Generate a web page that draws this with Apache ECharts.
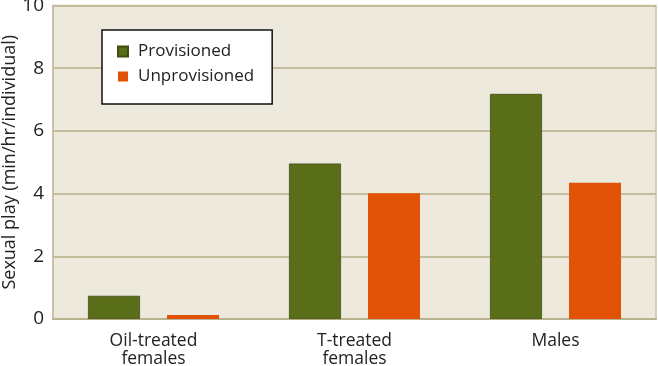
<!DOCTYPE html>
<html><head><meta charset="utf-8">
<script src="https://cdn.jsdelivr.net/npm/echarts@6/dist/echarts.min.js"></script>
<style>html,body{margin:0;padding:0;background:#fff}#c{width:658px;height:366px}</style>
</head><body><div id="c"></div>
<script>
const categories = ['Oil-treated\nfemales', 'T-treated\nfemales', 'Males'];
const provisioned = [0.74, 4.96, 7.18];
const unprovisioned = [0.13, 4.01, 4.35];
const yTicks = [0, 2, 4, 6, 8, 10];

const chart = echarts.init(document.getElementById('c'));
chart.setOption({
  animation: false,
  textStyle: { fontFamily: 'Open Sans' },
  grid: { left: 53, right: 2, top: 5.5, bottom: 47, outerBoundsMode: 'none', containLabel: false,
    show: true, backgroundColor: '#ede9dc', borderColor: '#c9c3a6', borderWidth: 1.5 },
  legend: {
    left: 102, top: 30, orient: 'vertical',
    padding: [13, 18, 19, 15],
    backgroundColor: '#fff', borderColor: '#111', borderWidth: 1.5,
    itemWidth: 10, itemHeight: 10, itemGap: 8, icon: 'rect',
    textStyle: { fontSize: 17, color: '#222', fontFamily: 'Open Sans', padding: [0, 0, 0, 5] },
    data: ['Provisioned', 'Unprovisioned']
  },
  xAxis: {
    type: 'category', data: categories,
    axisLine: { lineStyle: { color: '#b9b28f', width: 2 } },
    axisTick: { show: false },
    axisLabel: { fontSize: 17.5, color: '#222', lineHeight: 18, margin: 13 }
  },
  yAxis: {
    type: 'value', min: yTicks[0], max: yTicks[yTicks.length - 1], interval: 2,
    name: 'Sexual play (min/hr/individual)', nameLocation: 'middle', nameGap: 34,
    nameMoveOverlap: false,
    nameTextStyle: { fontSize: 18, color: '#222' },
    axisLine: { show: true, lineStyle: { color: '#c4bd9d', width: 1.5 } },
    axisTick: { show: false },
    splitLine: { lineStyle: { color: '#c4bd9d', width: 2 } },
    axisLabel: { fontSize: 19, color: '#222', margin: 9, padding: [4, 0, 0, 0] }
  },
  series: [
    { name: 'Provisioned', type: 'bar', data: provisioned, barWidth: 52, barGap: '52%',
      itemStyle: { color: '#5a6e1a', borderColor: '#3f4f10', borderWidth: 0.8 } },
    { name: 'Unprovisioned', type: 'bar', data: unprovisioned, barWidth: 52,
      itemStyle: { color: '#e15206' } }
  ]
});
</script></body></html>
